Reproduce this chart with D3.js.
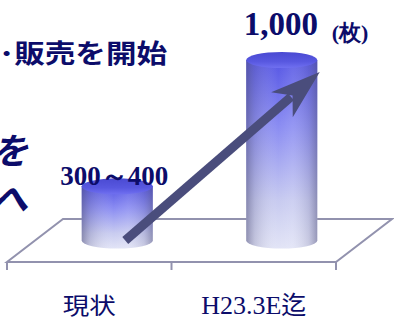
<!DOCTYPE html>
<html>
<head>
<meta charset="utf-8">
<script src="https://cdn.jsdelivr.net/npm/d3@7/dist/d3.min.js"></script>
<style>
  html, body { margin: 0; padding: 0; background: #fff; }
  svg { display: block; }
</style>
</head>
<body>
<svg id="chart" width="394" height="326"></svg>
<script>
// ---- data ----
const categories = ["現状", "H23.3E迄"];
const values = [300, 1000];
const valueLabels = ["300～400", "1,000"];
const unitLabel = "(枚)";
const headline = "･販売を開始";
const sideLines = ["を", "へ"];

// ---- layout ----
const floorFront = 262;           // y of the front edge of the floor
const depthX = 56, depthY = 43;   // oblique depth offset of the floor
const navy = "#0c0c6a";
const cjk = "'Noto Sans CJK JP', 'Noto Sans', sans-serif";
const serif = "'Liberation Serif', 'DejaVu Serif', serif";

const svg = d3.select("#chart");
const defs = svg.append("defs");

const x = d3.scaleBand().domain(categories).range([7, 336]).paddingInner(0).paddingOuter(0);
const baseY = floorFront - depthY / 2;     // cylinders stand in the middle of the floor depth
const y = d3.scaleLinear().domain([0, 1000]).range([baseY, 60]);

const radius = x.bandwidth() * 0.216;
const ry = 8;
const cx = d => x(d) + x.bandwidth() / 2 + depthX / 2;

// ---- gradients ----
const gBody = defs.append("linearGradient").attr("id", "body").attr("x1", 0).attr("y1", 0).attr("x2", 0).attr("y2", 1);
[["0%", "#5656e4"], ["35%", "#8a8cf2"], ["75%", "#c8cbf0"], ["100%", "#e2e4f6"]]
  .forEach(([o, c]) => gBody.append("stop").attr("offset", o).attr("stop-color", c));

const gShade = defs.append("linearGradient").attr("id", "shade").attr("x1", 0).attr("y1", 0).attr("x2", 1).attr("y2", 0);
[["0%", "#50507a", 0.55], ["12%", "#6a6a90", 0.25], ["45%", "#ffffff", 0.0], ["65%", "#ffffff", 0.1], ["88%", "#6a6a90", 0.2], ["100%", "#50507a", 0.5]]
  .forEach(([o, c, a]) => gShade.append("stop").attr("offset", o).attr("stop-color", c).attr("stop-opacity", a));

const gTop = defs.append("linearGradient").attr("id", "top").attr("x1", 0).attr("y1", 0).attr("x2", 0).attr("y2", 1);
[["0%", "#4a4ad2"], ["60%", "#5858e0"], ["100%", "#7070f0"]]
  .forEach(([o, c]) => gTop.append("stop").attr("offset", o).attr("stop-color", c));

// ---- floor ----
const x0 = x.range()[0], x1 = x.range()[1];
const floor = d3.path();
floor.moveTo(x0, floorFront);
floor.lineTo(x1, floorFront);
floor.lineTo(x1 + depthX, floorFront - depthY);
floor.lineTo(x0 + depthX, floorFront - depthY);
floor.closePath();
svg.append("path").attr("d", floor.toString())
  .attr("fill", "none").attr("stroke", "#9292ae").attr("stroke-width", 2);

// category ticks along the front edge
const tickXs = [x0, ...categories.map(c => x(c) + x.bandwidth())];
svg.selectAll("line.tick").data(tickXs).join("line")
  .attr("class", "tick")
  .attr("x1", d => d).attr("x2", d => d)
  .attr("y1", floorFront).attr("y2", floorFront + 8)
  .attr("stroke", "#9292ae").attr("stroke-width", 2);

// ---- cylinders ----
const bars = svg.selectAll("g.bar").data(categories.map((c, i) => ({ c, v: values[i], i })))
  .join("g").attr("class", "bar");

// body outline: two sides plus the lower half of the base ellipse
function bodyPath(d) {
  const c = cx(d.c), t = y(d.v);
  return `M${c - radius},${t} L${c - radius},${baseY} A${radius},${ry} 0 0 0 ${c + radius},${baseY} L${c + radius},${t} Z`;
}
bars.append("path").attr("d", bodyPath).attr("fill", "url(#body)");
bars.append("path").attr("d", bodyPath).attr("fill", "url(#shade)");
bars.append("ellipse")
  .attr("cx", d => cx(d.c)).attr("cy", d => y(d.v))
  .attr("rx", radius).attr("ry", ry)
  .attr("fill", "url(#top)");

// ---- value labels ----
const labelLift = [1, 25];
bars.append("text")
  .attr("x", d => cx(d.c) - (d.i === 0 ? 3 : 1))
  .attr("y", d => y(d.v) - labelLift[d.i])
  .attr("text-anchor", "middle")
  .attr("font-family", serif).attr("font-weight", "bold")
  .attr("font-size", d => d.i === 0 ? 27 : 33)
  .attr("fill", navy)
  .text(d => valueLabels[d.i]);

svg.append("text")
  .attr("x", cx(categories[1]) + 50).attr("y", y(values[1]) - 20)
  .attr("font-family", serif).attr("font-weight", "bold").attr("font-size", 22)
  .attr("fill", navy)
  .text(unitLabel);

// ---- growth arrow from the current level up to the target ----
const ax0 = cx(categories[0]) + 8, ay0 = y(0);
const ax1 = cx(categories[1]) + 38, ay1 = y(values[1]) + 12;
const len = Math.hypot(ax1 - ax0, ay1 - ay0);
const ux = (ax1 - ax0) / len, uy = (ay1 - ay0) / len;
const px = -uy, py = ux;
const at = (a, b) => [ax1 + ux * a + px * b, ay1 + uy * a + py * b];
const arrowColor = "#4a4d7c";
svg.append("line")
  .attr("x1", ax0).attr("y1", ay0)
  .attr("x2", at(-38, 0)[0]).attr("y2", at(-38, 0)[1])
  .attr("stroke", arrowColor).attr("stroke-width", 9);
svg.append("path")
  .attr("d", "M" + [at(0, 0), at(-50, 16.5), at(-36, 0), at(-50, -16.5)].map(p => p.join(",")).join("L") + "Z")
  .attr("fill", arrowColor);

// ---- category labels ----
svg.append("text")
  .attr("x", x(categories[0]) + x.bandwidth() / 2).attr("y", 314)
  .attr("text-anchor", "middle")
  .attr("font-family", cjk).attr("font-size", 23)
  .attr("textLength", 53).attr("lengthAdjust", "spacingAndGlyphs")
  .attr("fill", navy)
  .text(categories[0]);

const lab2 = svg.append("text")
  .attr("x", x(categories[1]) + x.bandwidth() / 2).attr("y", 314)
  .attr("text-anchor", "middle")
  .attr("fill", navy);
lab2.append("tspan").attr("font-family", serif).attr("font-size", 26).text(categories[1].slice(0, 6));
lab2.append("tspan").attr("font-family", cjk).attr("font-size", 25).text(categories[1].slice(6));

// ---- surrounding slide text ----
svg.append("text")
  .attr("x", -1).attr("y", 63)
  .attr("font-family", cjk).attr("font-weight", "bold").attr("font-size", 26)
  .attr("textLength", 168).attr("lengthAdjust", "spacingAndGlyphs")
  .attr("fill", navy)
  .text(headline);

svg.selectAll("text.side").data(sideLines).join("text")
  .attr("class", "side")
  .attr("x", 28).attr("y", (d, i) => 164 + i * 48)
  .attr("text-anchor", "end")
  .attr("font-family", cjk).attr("font-weight", "bold").attr("font-style", "italic")
  .attr("font-size", 36)
  .attr("fill", navy)
  .text(d => d);
</script>
</body>
</html>
